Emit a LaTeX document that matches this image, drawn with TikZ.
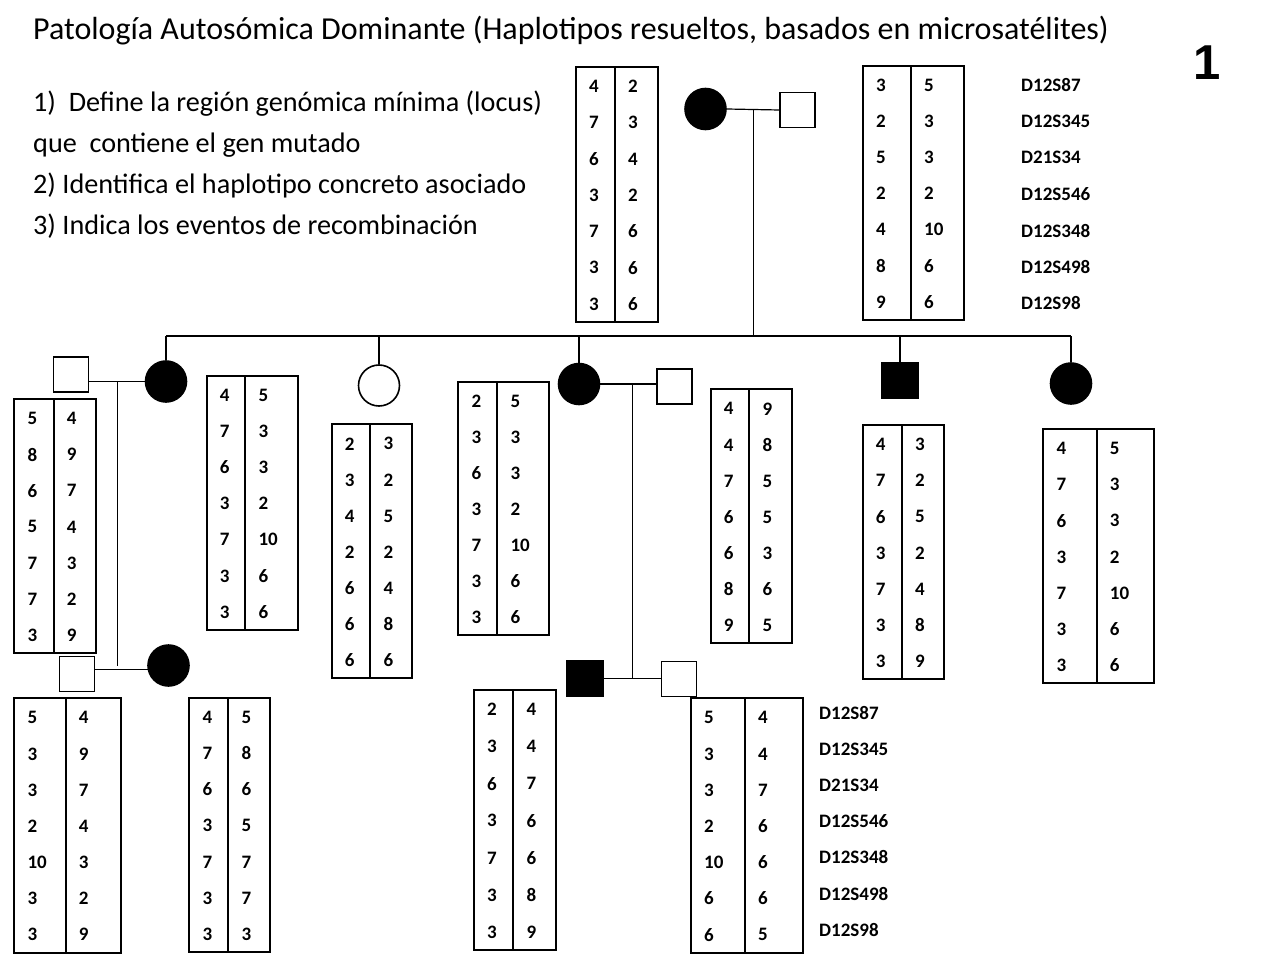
\documentclass[tikz,border=0pt]{standalone}
\usepackage{fontspec}
\setmainfont{Carlito}
\newfontfamily\pagenumfont{Liberation Sans}
\tikzset{
  affected/.style={fill=black},
  female/.style={circle,draw,line width=1.6pt,minimum size=41pt,inner sep=0pt},
  male/.style={rectangle,draw,line width=1.6pt,minimum size=35pt,inner sep=0pt},
  haplobox/.style={draw,line width=1.8pt},
  allele/.style={anchor=west,inner sep=0pt,font=\fontsize{19}{19}\selectfont\bfseries},
  marker/.style={anchor=west,inner sep=0pt,font=\fontsize{19}{19}\selectfont\bfseries},
  question/.style={anchor=base west,inner sep=0pt,font=\fontsize{28.2}{28.2}\selectfont},
  link/.style={line width=1.2pt},
}
% \haplo{name}{left}{top}{divider}{right}{bottom}{first haplotype}{second haplotype}
\newcommand{\haplo}[8]{%
  \draw[haplobox] (#2,#3) rectangle (#5,#6);
  \draw[haplobox] (#4,#3) -- (#4,#6);
  \foreach \a [count=\i] in {#7}
    \node[allele] (#1a\i) at ({#2+13},{#3+19.5+(\i-1)*(#6-#3-37.5)/6}) {\a};
  \foreach \b [count=\i] in {#8}
    \node[allele] (#1b\i) at ({#4+13},{#3+19.5+(\i-1)*(#6-#3-37.5)/6}) {\b};
}
\begin{document}
\begin{tikzpicture}[x=1pt,y=-1pt]
  \path[fill=white,use as bounding box] (0,0) rectangle (1280,960);

  \node[anchor=base west,inner sep=0pt,font=\fontsize{32}{32}\selectfont] (title) at (33,39.5)
    {Patología Autosómica Dominante (Haplotipos resueltos, basados en microsatélites)};
  \node[anchor=base west,inner sep=0pt,font=\pagenumfont\bfseries\fontsize{49}{49}\selectfont] (pagenum) at (1193,80) {1};
  \node[question] (q1) at (33,112) {1)\ \ Define la región genómica mínima (locus)};
  \node[question] (q2) at (33,153) {que\ \ contiene el gen mutado};
  \node[question] (q3) at (33,194) {2) Identifica el haplotipo concreto asociado};
  \node[question] (q4) at (33,235) {3) Indica los eventos de recombinación};

  % individuals
  \node[female,affected] (I1) at (705.5,109) {};
  \node[male] (I2) at (797.5,110) {};
  \node[male] (II1s) at (71,374.5) {};
  \node[female,affected] (II1) at (166,381.5) {};
  \node[female] (II2) at (379,385.5) {};
  \node[female,affected] (II3) at (579,384) {};
  \node[male] (II3s) at (674.7,386.7) {};
  \node[male,affected,minimum size=36pt] (II4) at (900,380.5) {};
  \node[female,affected] (II5) at (1071,383.5) {};
  \node[male] (III1s) at (77,674) {};
  \node[female,affected] (III1) at (168.5,665.5) {};
  \node[male,affected,minimum size=36pt] (III2) at (584.7,678.3) {};
  \node[male] (III3) at (679,679) {};

  % lines
  \coordinate (mI) at (753.5,109.5);
  \coordinate (sib) at (0,336);
  \coordinate (mII1) at (117.7,381.5);
  \coordinate (mII3) at (632.7,384);
  \draw[link] (I1.east) -- (I2.west);
  \draw[link] (mI) -- (mI |- sib);
  \draw[link] (II1.north |- sib) -- (II5.north |- sib);
  \foreach \n in {II1,II2,II3,II4,II5}
    \draw[link] (\n.north) -- (\n.north |- sib);
  \draw[link] (II1.west) -- (II1.west -| II1s.east);
  \draw[link] (mII1) -- (mII1 |- III1.west);
  \draw[link] (III1.190) -- (III1.190 -| III1s.east);
  \draw[link] (II3.east) -- (II3.east -| II3s.west);
  \draw[link] (mII3) -- (mII3 |- III2.east);
  \draw[link] (III2.east) -- (III2.east -| III3.west);

  % haplotypes
  \haplo{hI1}{576}{67}{615}{657.7}{322}{4,7,6,3,7,3,3}{2,3,4,2,6,6,6}
  \haplo{hI2}{862.8}{66}{911}{964}{320}{3,2,5,2,4,8,9}{5,3,3,2,10,6,6}
  \haplo{hII1s}{14.3}{399}{53.7}{96}{653.3}{5,8,6,5,7,7,3}{4,9,7,4,3,2,9}
  \haplo{hII1}{206.7}{375.7}{245.3}{297.7}{630}{4,7,6,3,7,3,3}{5,3,3,2,10,6,6}
  \haplo{hII2}{331.7}{424.3}{370.3}{412.3}{678.3}{2,3,4,2,6,6,6}{3,2,5,2,4,8,6}
  \haplo{hII3}{458.3}{381.7}{497.3}{549.3}{635}{2,3,6,3,7,3,3}{5,3,3,2,10,6,6}
  \haplo{hII3s}{710.7}{389.3}{749.3}{791.7}{643.3}{4,4,7,6,6,8,9}{9,8,5,5,3,6,5}
  \haplo{hII4}{862.7}{425}{902}{944.3}{679.3}{4,7,6,3,7,3,3}{3,2,5,2,4,8,9}
  \haplo{hII5}{1043.3}{429}{1096.7}{1154}{683.3}{4,7,6,3,7,3,3}{5,3,3,2,10,6,6}
  \haplo{hIII1s}{14.3}{698.3}{65.7}{120.7}{952.7}{5,3,3,2,10,3,3}{4,9,7,4,3,2,9}
  \haplo{hIII1}{189.3}{697.7}{228.3}{270}{952.3}{4,7,6,3,7,3,3}{5,8,6,5,7,7,3}
  \haplo{hIII2}{474}{690}{513.3}{555.7}{950}{2,3,6,3,7,3,3}{4,4,7,6,6,8,9}
  \haplo{hIII3}{691}{698.3}{745}{803.3}{952.7}{5,3,3,2,10,6,6}{4,4,7,6,6,6,5}

  % markers
  \foreach \m [count=\i] in {D12S87,D12S345,D21S34,D12S546,D12S348,D12S498,D12S98} {
    \node[marker] (mkI\i) at (1021,{85+(\i-1)*36.4}) {\m};
    \node[marker] (mkIII\i) at (819,{712.7+(\i-1)*36.2}) {\m};
  }
\end{tikzpicture}
\end{document}
